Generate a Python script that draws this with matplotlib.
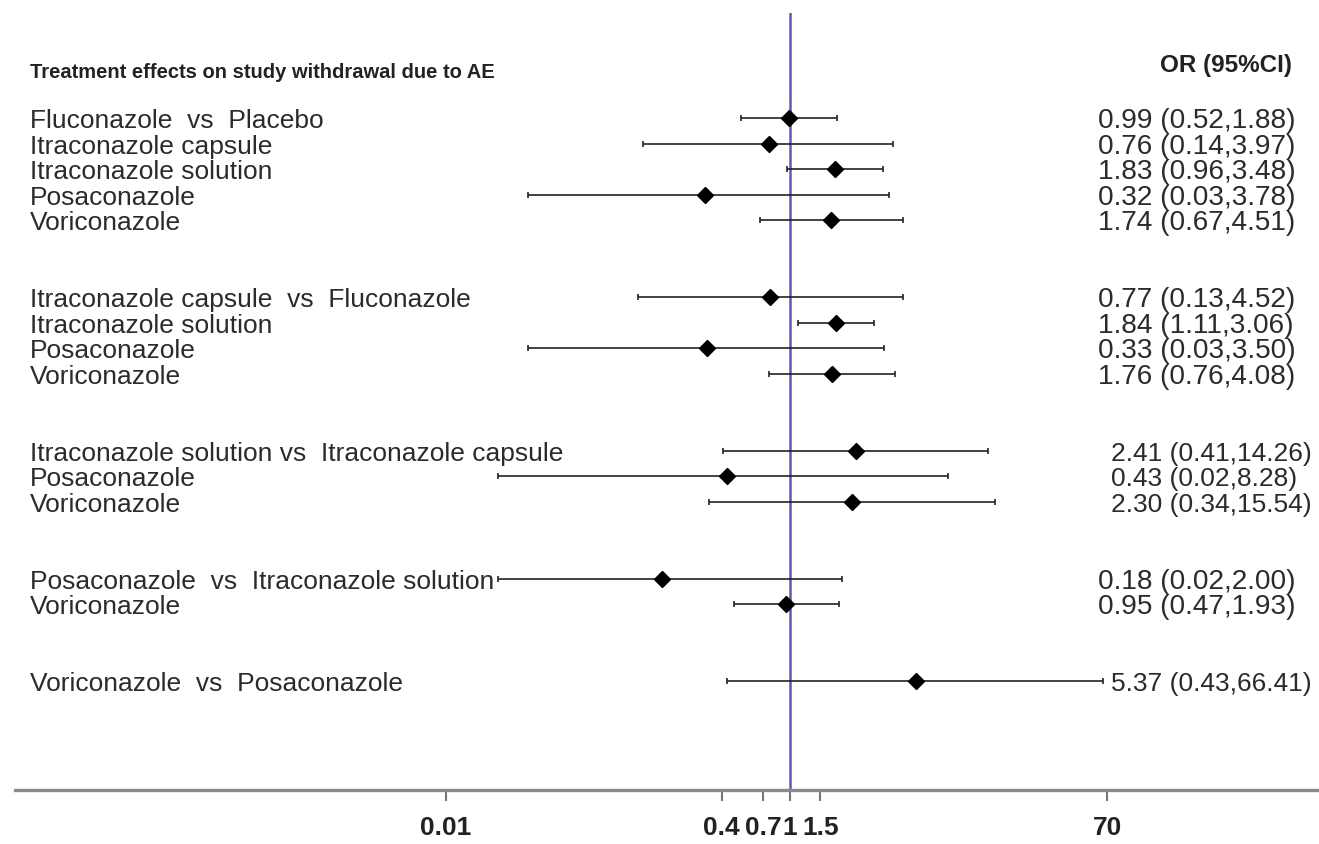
import matplotlib.pyplot as plt
import matplotlib.transforms as mtransforms
import numpy as np

# Comparisons, grouped by reference treatment
groups = [5, 4, 3, 2, 1]
labels = [
    "Fluconazole  vs  Placebo", "Itraconazole capsule", "Itraconazole solution",
    "Posaconazole", "Voriconazole",
    "Itraconazole capsule  vs  Fluconazole", "Itraconazole solution",
    "Posaconazole", "Voriconazole",
    "Itraconazole solution vs  Itraconazole capsule", "Posaconazole", "Voriconazole",
    "Posaconazole  vs  Itraconazole solution", "Voriconazole",
    "Voriconazole  vs  Posaconazole",
]
or_vals = [0.99, 0.76, 1.83, 0.32, 1.74,
           0.77, 1.84, 0.33, 1.76,
           2.41, 0.43, 2.30,
           0.18, 0.95,
           5.37]
ci_low = [0.52, 0.14, 0.96, 0.03, 0.67,
          0.13, 1.11, 0.03, 0.76,
          0.41, 0.02, 0.34,
          0.02, 0.47,
          0.43]
ci_high = [1.88, 3.97, 3.48, 3.78, 4.51,
           4.52, 3.06, 3.50, 4.08,
           14.26, 8.28, 15.54,
           2.00, 1.93,
           66.41]
tick_vals = [0.01, 0.4, 0.7, 1, 1.5, 70]
tick_text = ["0.01", "0.4", "0.7", "1", "1.5", "70"]

# row positions: two blank rows between groups
ypos = []
start = 0
for n in groups:
    ypos.extend(range(start, start + n))
    start += n + 2
ypos = np.array(ypos, dtype=float)

or_vals = np.array(or_vals)
err = np.vstack([or_vals - np.array(ci_low), np.array(ci_high) - or_vals])

W, H = 1319, 844
fig = plt.figure(figsize=(W / 100, H / 100), dpi=100)
ax = fig.add_axes([15 / W, 54 / H, 1303 / W, 777 / H])

ax.set_xscale('log')
ax.set_xlim(10 ** -4.506, 10 ** 3.07)
ax.set_ylim(26.25, -4.1)

ax.axvline(1, color='#5a5ab8', linewidth=1.8, zorder=1)

ax.errorbar(or_vals, ypos, xerr=err, fmt='D', color='black', markersize=8,
            ecolor='#222222', elinewidth=1.2, capsize=2.5, capthick=1.2, zorder=3)

for s in ['top', 'left', 'right']:
    ax.spines[s].set_visible(False)
ax.spines['bottom'].set_color('#8a8a8a')
ax.spines['bottom'].set_linewidth(2.4)
ax.set_yticks([])
ax.xaxis.set_minor_locator(plt.NullLocator())
ax.set_xticks(tick_vals)
ax.set_xticklabels(tick_text, fontsize=19, fontweight='bold', family='Liberation Sans')
ax.tick_params(axis='x', length=8, width=1.5, color='#777777', pad=11, labelcolor='#222222')

fig_x = mtransforms.blended_transform_factory(fig.transFigure, ax.transData)
txt_color = '#2b2b2b'

ax.text(30 / W, -1.78, "Treatment effects on study withdrawal due to AE", transform=fig_x,
        fontsize=14.5, fontweight='bold', family='Liberation Sans', color='#222222',
        va='center', ha='left')
ax.text(1292 / W, -2.05, "OR (95%CI)", transform=fig_x, fontsize=17.5, fontweight='bold',
        family='Liberation Sans', color='#222222', va='center', ha='right')

# left-hand labels and right-hand OR column
idx = 0
for n in groups:
    rows = range(idx, idx + n)
    texts = [f"{or_vals[i]:.2f} ({ci_low[i]:.2f},{ci_high[i]:.2f})" for i in rows]
    if max(len(t) for t in texts) > 16:
        col_x, col_fs = 1111, 19
    else:
        col_x, col_fs = 1098, 20.2
    for i, t in zip(rows, texts):
        ax.text(30 / W, ypos[i] + 0.12, labels[i], transform=fig_x, fontsize=19,
                family='Liberation Sans', color=txt_color, va='center', ha='left')
        ax.text(col_x / W, ypos[i] + 0.12, t, transform=fig_x, fontsize=col_fs,
                family='Liberation Sans', color=txt_color, va='center', ha='left')
    idx += n

fig.savefig('out.png', dpi=100)
